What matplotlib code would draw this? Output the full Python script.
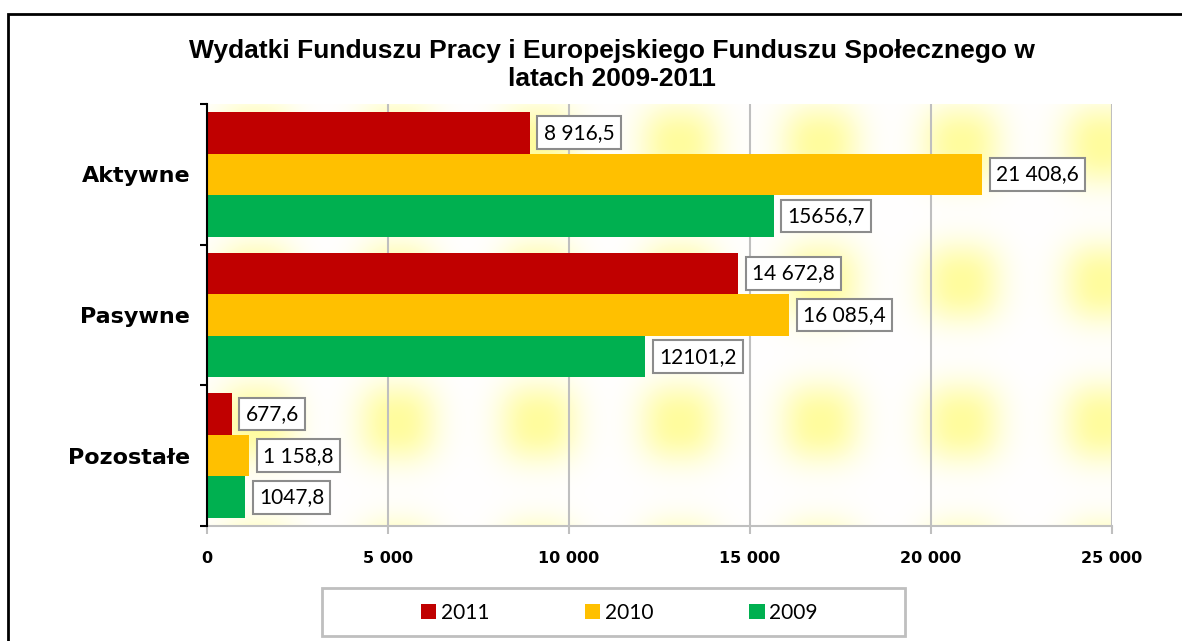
import numpy as np
import matplotlib
matplotlib.use('Agg')
import matplotlib.pyplot as plt
from matplotlib.patches import Rectangle

# data
categories = ['Aktywne', 'Pasywne', 'Pozostałe']
years = ['2011', '2010', '2009']
values_2011 = [8916.5, 14672.8, 677.6]
values_2010 = [21408.6, 16085.4, 1158.8]
values_2009 = [15656.7, 12101.2, 1047.8]
labels_2011 = ['8 916,5', '14 672,8', '677,6']
labels_2010 = ['21 408,6', '16 085,4', '1 158,8']
labels_2009 = ['15656,7', '12101,2', '1047,8']
xticks = [0, 5000, 10000, 15000, 20000, 25000]
xtick_labels = ['0', '5 000', '10 000', '15 000', '20 000', '25 000']

colors = ['#C00000', '#FFC000', '#00B050']
W, H = 1182, 641

fig = plt.figure(figsize=(W / 100, H / 100), dpi=100)
ax = fig.add_axes([207 / W, 1 - 526 / H, (1112 - 207) / W, (526 - 104) / H])

# decorative yellow glow texture in the plot area (soft squarish spots)
ny, nx = 422, 905
yy, xx = np.mgrid[0:ny, 0:nx]
glow = np.zeros((ny, nx))
for cx in range(190 - 141, nx + 141, 141):
    for cy in (40, 178, 318, 458):
        d = (np.abs(xx - cx) / 40.0) ** 2.4 + (np.abs(yy - cy) / 40.0) ** 2.4
        glow += np.exp(-d)
glow = np.clip(glow, 0, 1)
bg = np.ones((ny, nx, 3))
bg[..., 2] = 1 - 0.38 * glow
bg[..., 1] = 1 - 0.01 * glow
ax.imshow(bg, extent=(0, 1, 0, 1), transform=ax.transAxes, aspect='auto',
          zorder=0, interpolation='bilinear')

ypos = np.arange(len(categories))
h = 0.296
series = [(values_2011, labels_2011), (values_2010, labels_2010),
          (values_2009, labels_2009)]
handles = []
for i, (vals, labs) in enumerate(series):
    off = (i - 1) * h
    b = ax.barh(ypos + off, vals, height=h, color=colors[i], zorder=3,
                label=years[i])
    handles.append(b)
    for y, v, t in zip(ypos + off, vals, labs):
        ax.annotate(t, xy=(v, y), xytext=(10, 0), textcoords='offset points',
                    ha='left', va='center', fontsize=15, family='Lato',
                    zorder=5,
                    bbox=dict(boxstyle='square,pad=0.3', fc='white',
                              ec='#8c8c8c', lw=1.5))

ax.set_xlim(0, 25000)
ax.set_ylim(2.5, -0.5)
ax.set_xticks(xticks)
ax.set_xticklabels(xtick_labels, fontsize=11.5, fontweight='bold',
                   family='DejaVu Sans')
ax.set_yticks([-0.5, 0.5, 1.5, 2.5])
ax.set_yticklabels([])
ax.set_yticks(ypos, minor=True)
ax.set_yticklabels(categories, minor=True, fontsize=16, fontweight='bold',
                   family='DejaVu Sans')
ax.tick_params(axis='y', which='major', direction='out', length=5, width=1.5,
               color='black')
ax.tick_params(axis='y', which='minor', length=0, pad=12)
ax.tick_params(axis='x', direction='out', length=6, width=1.5,
               color='#bfbfbf', pad=12)
ax.grid(axis='x', color='#bfbfbf', lw=1.5, zorder=1)
ax.set_axisbelow(True)
for s in ['top', 'right']:
    ax.spines[s].set_visible(False)
ax.spines['left'].set_color('black')
ax.spines['left'].set_linewidth(1.5)
ax.spines['left'].set_zorder(4)
ax.spines['bottom'].set_color('#bfbfbf')
ax.spines['bottom'].set_linewidth(1.5)

fig.text(612 / W, 1 - 65 / H,
         'Wydatki Funduszu Pracy i Europejskiego Funduszu Społecznego w\nlatach 2009-2011',
         ha='center', va='center', fontsize=19, fontweight='bold',
         family='Liberation Sans', linespacing=1.22)

# outer chart border (clipped at right and bottom like the original)
fig.patches.append(Rectangle((8 / W, -0.1), 1.2, 1 - 14 / H + 0.1,
                             transform=fig.transFigure, fill=False,
                             ec='black', lw=2))
# legend frame
fig.patches.append(Rectangle((322 / W, 1 - 636 / H), (905 - 322) / W, 48 / H,
                             transform=fig.transFigure, fc='white',
                             ec='#bfbfbf', lw=2))
fig.legend(handles=handles, loc='center', bbox_to_anchor=(619 / W, 1 - 613 / H),
           ncol=3, frameon=False, handlelength=0.75, handleheight=0.75,
           handletextpad=0.2, columnspacing=4.6,
           prop={'family': 'Lato', 'size': 15})

fig.savefig('out.png', dpi=100, facecolor='white')
